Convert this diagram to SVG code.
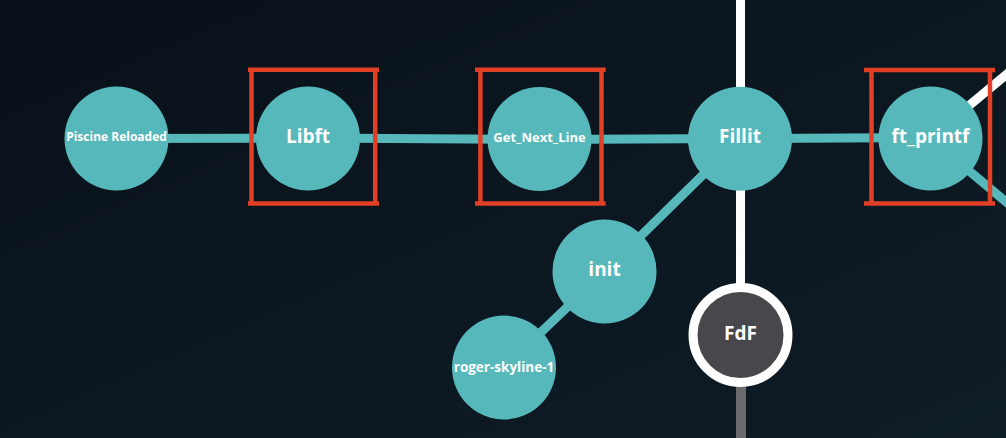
<svg xmlns="http://www.w3.org/2000/svg" width="1006" height="438" viewBox="0 0 1006 438">
<defs>
<linearGradient id="bg" x1="0" y1="0" x2="1" y2="1">
<stop offset="0" stop-color="#09111A"/>
<stop offset="1" stop-color="#0E1C26"/>
</linearGradient>
<style>
.teal{fill:#56B8BA}
.edge{stroke:#56B8BA;stroke-width:9;fill:none}
.white{stroke:#FFFFFF;stroke-width:9;fill:none}
.grey{stroke:#6B6B6D;stroke-width:10;fill:none}
.box{stroke:#E23F27;stroke-width:4.5;fill:none}
.lbl{font-family:"Open Sans","Noto Sans",sans-serif;font-weight:bold;fill:#FFFFFF;text-anchor:middle}
.big{font-size:19px}
</style>
</defs>
<rect width="1006" height="438" fill="url(#bg)"/>
<g id="connectors">
<line class="white" x1="740.5" y1="0" x2="740.5" y2="300"/>
<line class="grey" x1="741" y1="370" x2="741" y2="438"/>
<line class="white" x1="930" y1="138" x2="1030" y2="55"/>
<line class="edge" x1="930" y1="138" x2="1030" y2="222"/>
<line class="edge" x1="116.5" y1="138.5" x2="308" y2="138"/>
<line class="edge" x1="308" y1="138" x2="539.5" y2="139.5"/>
<line class="edge" x1="539.5" y1="139.5" x2="740" y2="138.5"/>
<line class="edge" x1="740" y1="138.5" x2="930" y2="137.5"/>
<line class="edge" x1="740" y1="138.5" x2="604.5" y2="271.5"/>
<line class="edge" x1="604.5" y1="271.5" x2="504" y2="367.5"/>
</g>
<g id="piscine-reloaded">
<circle class="teal" cx="116.5" cy="138.5" r="52"/>
<text class="lbl" x="116.5" y="141" font-size="12">Piscine Reloaded</text>
</g>
<g id="libft">
<circle class="teal" cx="308" cy="138.5" r="52"/>
<path class="box" d="M248 69.7H379M248 203.4H379M251.5 69.7V203.4M375.2 69.7V203.4"/>
<text class="lbl big" x="308" y="143">Libft</text>
</g>
<g id="get-next-line">
<circle class="teal" cx="539.5" cy="139" r="52"/>
<path class="box" d="M475 69.7H605.7M475 203.4H605.7M480.4 69.7V203.4M601.5 69.7V203.4"/>
<text class="lbl" x="539.5" y="142" font-size="13">Get_Next_Line</text>
</g>
<g id="fillit">
<circle class="teal" cx="740" cy="138.8" r="52"/>
<text class="lbl big" x="740" y="143">Fillit</text>
</g>
<g id="ft-printf">
<circle class="teal" cx="930.5" cy="138.5" r="52"/>
<path class="box" d="M864 70H995M864 203.4H995M871.5 70V203.4M990 70V203.4"/>
<text class="lbl big" x="930.5" y="143">ft_printf</text>
</g>
<g id="init">
<circle class="teal" cx="604.5" cy="271.5" r="52"/>
<text class="lbl big" x="604.5" y="276">init</text>
</g>
<g id="roger-skyline-1">
<circle class="teal" cx="504" cy="367.5" r="52"/>
<text class="lbl" x="504" y="372" font-size="13.5">roger-skyline-1</text>
</g>
<g id="fdf">
<circle cx="740.5" cy="335" r="47.5" fill="#48474C" stroke="#FFFFFF" stroke-width="9"/>
<text class="lbl big" x="740.5" y="340">FdF</text>
</g>
</svg>
